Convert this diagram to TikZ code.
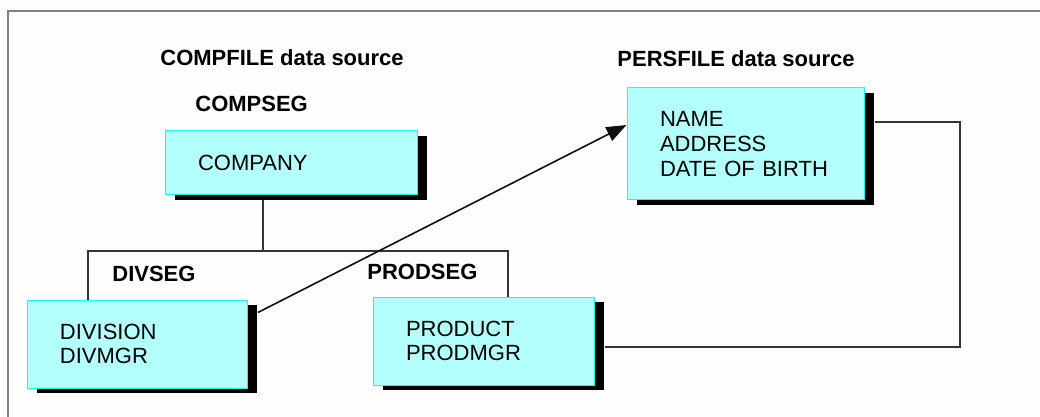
\documentclass[tikz,border=0pt]{standalone}
\usepackage{fontspec}
\setmainfont{Liberation Sans}
\usepackage{xcolor}
\usepackage{tikz}
\usetikzlibrary{arrows.meta,positioning,calc,shadows}
\definecolor{ink}{HTML}{101010}
\definecolor{framegray}{HTML}{808080}
\definecolor{paper}{HTML}{FCFDFC}
\definecolor{segcyan}{HTML}{B2FFFC}
\definecolor{segedge}{HTML}{1CF4F4}
\tikzset{
  >={Triangle[length=10pt,width=7.5pt]},
  seg/.style={rectangle,draw=segedge,fill=segcyan,line width=.5pt,
    minimum height=#1,inner xsep=16.5pt,align=left,
    font=\fontsize{11}{12.3}\selectfont,
    drop shadow={shadow xshift=5.2pt,shadow yshift=-2.6pt,fill=black,opacity=1}},
  title/.style={anchor=base west,inner sep=0pt,font=\fontsize{11}{13}\selectfont\bfseries},
  link/.style={line width=.8pt,color=ink!85},
}

\begin{document}
\begin{tikzpicture}[x=.5pt,y=-.5pt]
  \useasboundingbox[fill=paper] (0,0) rectangle (1040,417);
  \draw[framegray,line width=1.1pt] (8,417) -- (8,11) -- (1040,11);

  \node[title] (compfile) at (160,66) {COMPFILE data source};
  \node[title] (compseg) at (195,112) {COMPSEG};
  \node[title] (persfile) at (617,67) {PERSFILE data source};
  \node[title] (divseg) at (112,281) {DIVSEG};
  \node[title] (prodseg) at (367,279) {PRODSEG};

  % tree of COMPFILE
  \coordinate (stem) at (263,251);
  \coordinate (busL) at (88,251);
  \coordinate (busR) at (508,251);
  \coordinate (loop) at (960,347);

  \draw[link] (stem) -- (stem |- 0,190);
  \draw[link] (busL |- 0,300) -- (busL) -- (busR) -- (busR |- 0,297);

  \node[seg=32pt,text width=93pt] (company) at (291,163) {COMPANY};
  \node[seg=56pt,text width=85.5pt] (pers) at (745.5,144) {NAME\\ADDRESS\\DATE OF BIRTH};
  \node[seg=44pt,text width=77pt] (div) at (137,344) {DIVISION\\DIVMGR};
  \node[seg=44pt,text width=77.5pt] (prod) at (483.5,341) {PRODUCT\\PRODMGR};

  \draw[link,->,color=ink] ([xshift=5.2pt,yshift=-6.5pt]div.north east) -- ([yshift=9.5pt]pers.west);
  \draw[link] ([xshift=5.2pt,yshift=11pt]pers.east) -| (loop) |- ([xshift=5.2pt,yshift=-3pt]prod.east);
\end{tikzpicture}
\end{document}
